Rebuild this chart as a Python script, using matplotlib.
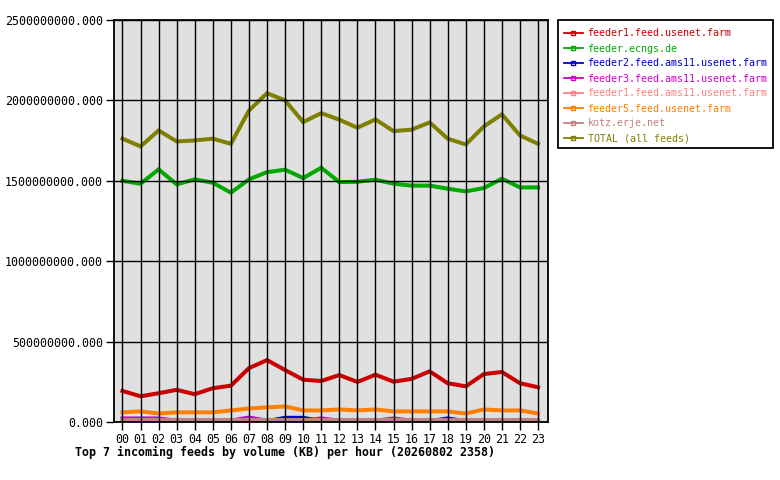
import matplotlib
matplotlib.use("Agg")
import matplotlib.pyplot as plt
from matplotlib.lines import Line2D
from matplotlib.patches import Rectangle

hours = ["%02d" % h for h in range(24)]

# volume (KB) per hour
feeder1_usenet = [193e6, 160e6, 179e6, 200e6, 173e6, 210e6, 226e6, 335e6, 385e6, 323e6, 263e6, 255e6,
                  292e6, 249e6, 294e6, 251e6, 268e6, 315e6, 241e6, 222e6, 298e6, 311e6, 241e6, 216e6]
ecngs = [1500e6, 1482e6, 1571e6, 1478e6, 1509e6, 1488e6, 1426e6, 1509e6, 1554e6, 1569e6, 1517e6, 1581e6,
         1492e6, 1494e6, 1507e6, 1482e6, 1470e6, 1470e6, 1451e6, 1434e6, 1455e6, 1513e6, 1459e6, 1459e6]
feeder2_ams11 = [5e6, 5e6, 5e6, 5e6, 5e6, 5e6, 5e6, 5e6, 5e6, 26e6, 26e6, 5e6,
                 5e6, 5e6, 5e6, 5e6, 5e6, 5e6, 22e6, 5e6, 5e6, 5e6, 5e6, 5e6]
feeder3_ams11 = [22e6, 22e6, 22e6, 8e6, 8e6, 8e6, 8e6, 28e6, 8e6, 8e6, 8e6, 22e6,
                 8e6, 8e6, 8e6, 22e6, 8e6, 8e6, 8e6, 8e6, 8e6, 8e6, 8e6, 8e6]
feeder1_ams11 = [8e6] * 24
feeder5_usenet = [60e6, 66e6, 53e6, 60e6, 60e6, 60e6, 72e6, 84e6, 91e6, 97e6, 72e6, 72e6,
                  78e6, 72e6, 78e6, 66e6, 66e6, 66e6, 66e6, 53e6, 78e6, 72e6, 72e6, 53e6]
kotz = [14e6] * 24
total = [1762e6, 1714e6, 1813e6, 1745e6, 1751e6, 1762e6, 1730e6, 1937e6, 2045e6, 2000e6, 1865e6, 1921e6,
         1880e6, 1830e6, 1882e6, 1809e6, 1818e6, 1863e6, 1762e6, 1726e6, 1838e6, 1913e6, 1782e6, 1730e6]

names = ["feeder1.feed.usenet.farm", "feeder.ecngs.de", "feeder2.feed.ams11.usenet.farm",
         "feeder3.feed.ams11.usenet.farm", "feeder1.feed.ams11.usenet.farm", "feeder5.feed.usenet.farm",
         "kotz.erje.net", "TOTAL (all feeds)"]
series = [feeder1_usenet, ecngs, feeder2_ams11, feeder3_ams11, feeder1_ams11, feeder5_usenet, kotz, total]
colors = ["#cc0000", "#00aa00", "#0000cc", "#cc00cc", "#ff8080", "#ff8000", "#c08080", "#808000"]

yticks = [0, 500e6, 1000e6, 1500e6, 2000e6, 2500e6]

mono = "DejaVu Sans Mono"
W, H = 780, 480

fig = plt.figure(figsize=(7.8, 4.8), dpi=100)
ax = fig.add_axes([114 / W, 1 - 422 / H, 434 / W, 402 / H])
ax.set_facecolor("#e0e0e0")

x = list(range(24))
for vals, c in zip(series, colors):
    ax.plot(x, vals, color=c, lw=2.9, solid_joinstyle="miter")

ax.set_xlim(-0.47, 23.55)
ax.set_ylim(0, 2500e6)
ax.set_xticks(x)
ax.set_xticklabels(hours, fontfamily=mono, fontsize=8.4)
ax.set_yticks(yticks)
ax.set_yticklabels(["%.3f" % v for v in yticks], fontfamily=mono, fontsize=8.4)
ax.grid(True, color="black", lw=1)
ax.set_axisbelow(False)
ax.tick_params(direction="out", length=6, width=1, color="black", pad=2)
for s in ax.spines.values():
    s.set_linewidth(1.3)

fig.text(75 / W, 1 - 452 / H, "Top 7 incoming feeds by volume (KB) per hour (20260802 2358)",
         fontfamily=mono, fontsize=8.4, fontweight="bold", va="center")

# legend box drawn separately so the rows can sit a little lower
fig.patches.append(Rectangle((558 / W, 1 - 148 / H), 215 / W, 128 / H, transform=fig.transFigure,
                             facecolor="white", edgecolor="black", lw=1.3))
handles = [Line2D([0], [0], color=c, lw=1.3, marker="s", markersize=3, markerfacecolor="none",
                  markeredgecolor=c) for c in colors]
leg = fig.legend(handles, names, loc="upper left", bbox_to_anchor=(558 / W, 1 - 23 / H),
                 prop={"family": mono, "size": 7.2}, frameon=False,
                 handlelength=1.9, handletextpad=0.5, labelspacing=0.5,
                 borderpad=0.55, borderaxespad=0)
for t, c in zip(leg.get_texts(), colors):
    t.set_color(c)

fig.savefig("out.png", dpi=100)
